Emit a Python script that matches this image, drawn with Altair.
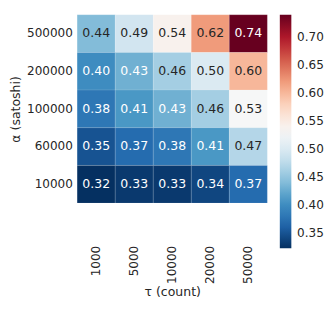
import altair as alt
import pandas as pd

taus = ["1000", "5000", "10000", "20000", "50000"]
alphas = ["500000", "200000", "100000", "60000", "10000"]
values = [
    [0.44, 0.49, 0.54, 0.62, 0.74],
    [0.40, 0.43, 0.46, 0.50, 0.60],
    [0.38, 0.41, 0.43, 0.46, 0.53],
    [0.35, 0.37, 0.38, 0.41, 0.47],
    [0.32, 0.33, 0.33, 0.34, 0.37],
]
legend_ticks = [0.35, 0.40, 0.45, 0.50, 0.55, 0.60, 0.65, 0.70]

# RdBu_r colour stops
cmap = ["#053061", "#2166ac", "#4393c3", "#92c5de", "#d1e5f0", "#f7f7f7",
        "#fddbc7", "#f4a582", "#d6604d", "#b2182b", "#67001f"]
vmin, vmax = 0.323, 0.739
stops = [vmin + (vmax - vmin) * i / (len(cmap) - 1) for i in range(len(cmap))]

rows = []
for a, row in zip(alphas, values):
    for t, v in zip(taus, row):
        rows.append({"tau": t, "alpha": a, "value": v})
df = pd.DataFrame(rows)

FONT = "DejaVu Sans"
DARK = "#262626"

x = alt.X("tau:O", sort=taus, title="τ (count)",
          axis=alt.Axis(labelAngle=270, labelPadding=44, ticks=False, domain=False,
                        labelFontSize=12.5, titleFontSize=13, titlePadding=2,
                        labelColor=DARK, titleColor=DARK, titleFontWeight="normal",
                        labelFont=FONT, titleFont=FONT))
y = alt.Y("alpha:O", sort=alphas, title="α (satoshi)",
          axis=alt.Axis(labelPadding=5, ticks=False, domain=False,
                        labelFontSize=12.5, titleFontSize=13, titlePadding=4,
                        labelColor=DARK, titleColor=DARK, titleFontWeight="normal",
                        labelFont=FONT, titleFont=FONT))

base = alt.Chart(df)
rect = base.mark_rect(stroke="white", strokeOpacity=0.15, strokeWidth=0.8).encode(
    x=x, y=y,
    color=alt.Color("value:Q",
                    scale=alt.Scale(domain=stops, range=cmap, interpolate="rgb", clamp=True),
                    legend=alt.Legend(title=None, values=legend_ticks, format=".2f",
                                      gradientLength=243, gradientThickness=12,
                                      labelFontSize=12.5, labelFont=FONT, labelColor=DARK,
                                      labelOffset=6, offset=13, gradientStrokeWidth=0)),
)
text = base.mark_text(fontSize=13, font=FONT).encode(
    x=x, y=y,
    text=alt.Text("value:Q", format=".2f"),
    color=alt.condition("datum.value < 0.435 || datum.value > 0.7",
                        alt.value("white"), alt.value(DARK)),
)

chart = (rect + text).properties(
    width=198, height=196,
    padding={"left": 2, "top": 0, "right": 0, "bottom": 0},
).configure_view(strokeWidth=0)
chart.save("out.html", embed_options={"renderer": "svg", "actions": False})
